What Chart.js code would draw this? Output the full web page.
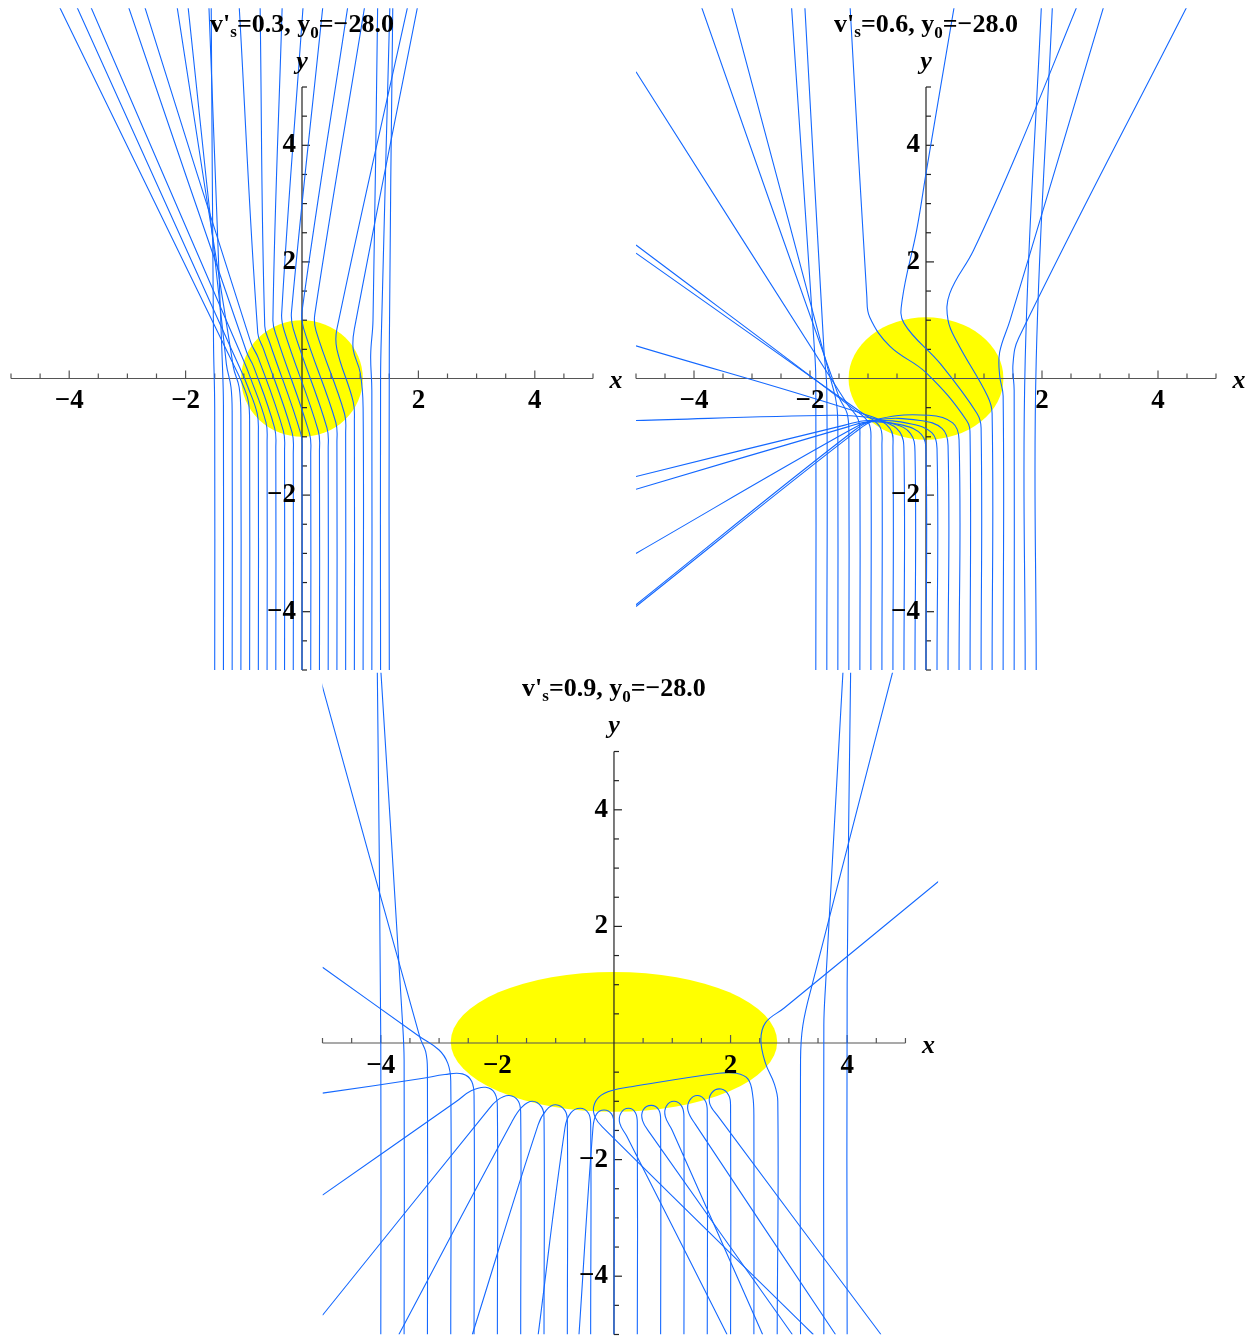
<!DOCTYPE html>
<html><head><meta charset="utf-8">
<script src="https://cdn.jsdelivr.net/npm/chart.js@4.4.1/dist/chart.umd.min.js"></script>
<style>
html,body{margin:0;padding:0;background:#fff;}
#wrap{position:relative;width:1257px;height:1338px;overflow:hidden;background:#fff;}
canvas{position:absolute;left:0;top:0;}
</style></head><body>
<div id="wrap">
<canvas id="cA" width="1257" height="1338"></canvas>
<canvas id="cB" width="1257" height="1338"></canvas>
<canvas id="cC" width="1257" height="1338"></canvas>
</div>
<script>
// ---------- data ----------
const axisRange = [-5, 5];
const minorTicks = [-5,-4.5,-4,-3.5,-3,-2.5,-2,-1.5,-1,-0.5,0.5,1,1.5,2,2.5,3,3.5,4,4.5,5];
const majorTicks = [-4,-2,2,4];
const tickLabels = ['\u22124','\u22122','2','4'];

const speeds = ['0.3','0.6','0.9'];
const y0Value = '\u221228.0';

// ellipse [cx, cy, rx, ry]
const bodyA = [0, 0, 1.045, 1.0];
const bodyB = [0, 0, 1.335, 1.05];
const bodyC = [0, 0.02, 2.8, 1.2];

const raysA = [
 [[-1.5,-5],[-1.5,-0.5],[-1.52,0.6],[-1.56,6.4]],
 [[-1.35,-5],[-1.35,-0.45],[-1.37,0.3],[-1.6,6.4]],
 [[-1.2,-5],[-1.2,-0.6],[-1.22,-0.15],[-1.3,0.25],[-1.96,6.4]],
 [[-1.05,-5],[-1.05,-0.65],[-1.08,-0.15],[-1.18,0.2],[-2.15,6.4]],
 [[-0.9,-5],[-0.9,-0.8],[-0.92,-0.4],[-1.0,-0.15],[-1.1,0.08],[-4.18,6.4]],
 [[-0.75,-5],[-0.75,-0.95],[-0.77,-0.6],[-0.94,-0.12],[-1.04,0.12],[-3.88,6.4]],
 [[-0.6,-5],[-0.6,-1.1],[-0.62,-0.75],[-0.9,0.05],[-1.0,0.3],[-3.64,6.4]],
 [[-0.45,-5],[-0.45,-1.2],[-0.47,-0.85],[-0.83,0.2],[-0.95,0.45],[-2.99,6.4]],
 [[-0.3,-5],[-0.3,-1.25],[-0.32,-0.9],[-0.75,0.35],[-0.88,0.62],[-2.71,6.4]],
 [[-0.15,-5],[-0.15,-1.3],[-0.17,-0.93],[-0.66,0.5],[-0.76,0.78],[-1.08,6.4]],
 [[0,-5],[0,-1.3],[-0.02,-0.95],[-0.55,0.6],[-0.64,0.9],[-0.72,6.4]],
 [[0.15,-5],[0.15,-1.3],[0.13,-0.95],[-0.43,0.7],[-0.5,1.0],[-0.34,6.4]],
 [[0.3,-5],[0.3,-1.25],[0.28,-0.9],[-0.3,0.8],[-0.35,1.1],[0.02,6.4]],
 [[0.45,-5],[0.45,-1.2],[0.43,-0.85],[-0.15,0.85],[-0.18,1.15],[0.36,6.4]],
 [[0.6,-5],[0.6,-1.1],[0.58,-0.75],[0.03,0.85],[0.0,1.15],[0.79,6.4]],
 [[0.75,-5],[0.75,-0.95],[0.73,-0.6],[0.24,0.82],[0.22,1.1],[1.08,6.4]],
 [[0.9,-5],[0.9,-0.75],[0.88,-0.4],[0.6,0.5],[0.6,0.85],[1.82,6.4]],
 [[1.05,-5],[1.05,-0.5],[1.0,0.1],[0.88,0.5],[0.9,0.85],[1.99,6.4]],
 [[1.2,-5],[1.2,-0.2],[1.18,0.4],[1.22,1.0],[1.3,6.4]],
 [[1.35,-5],[1.35,0],[1.37,1.0],[1.51,6.4]],
 [[1.5,-5],[1.5,0.5],[1.56,6.4]]
];

const raysB = [
 [[-1.9,-5],[-1.9,0],[-1.93,0.6],[-2.32,6.4]],
 [[-1.71,-5],[-1.71,-0.2],[-1.76,0.5],[-2.09,6.4]],
 [[-1.52,-5],[-1.52,-0.9],[-1.54,-0.45],[-1.62,-0.1],[-3.36,6.4]],
 [[-1.33,-5],[-1.33,-1.0],[-1.36,-0.6],[-1.5,-0.32],[-3.88,6.4]],
 [[-1.14,-5],[-1.14,-1.05],[-1.17,-0.7],[-1.35,-0.45],[-5,5.26]],
 [[-0.95,-5],[-0.95,-1.1],[-0.99,-0.76],[-1.25,-0.52],[-5,2.29]],
 [[-0.76,-5],[-0.76,-1.15],[-0.8,-0.82],[-1.12,-0.58],[-5,2.15]],
 [[-0.57,-5],[-0.57,-1.2],[-0.62,-0.86],[-0.98,-0.64],[-5,0.56]],
 [[-0.38,-5],[-0.38,-1.25],[-0.45,-0.92],[-0.72,-0.74],[-1.05,-0.66],[-1.6,-0.63],[-5,-0.72]],
 [[-0.19,-5],[-0.19,-1.25],[-0.27,-0.94],[-0.55,-0.78],[-1.0,-0.72],[-1.4,-0.8],[-5,-1.68]],
 [[0,-5],[0,-1.25],[-0.08,-0.96],[-0.4,-0.8],[-0.95,-0.74],[-1.35,-0.83],[-5,-1.9]],
 [[0.19,-5],[0.19,-1.2],[0.1,-0.93],[-0.25,-0.78],[-0.9,-0.73],[-1.3,-0.88],[-5,-3.0]],
 [[0.38,-5],[0.38,-1.15],[0.28,-0.86],[-0.1,-0.72],[-0.85,-0.71],[-1.25,-0.9],[-5,-3.88]],
 [[0.57,-5],[0.57,-1.05],[0.46,-0.76],[0.05,-0.63],[-0.8,-0.69],[-1.22,-0.92],[-5,-3.91]],
 [[0.76,-5],[0.76,-1.0],[0.7,-0.72],[0.0,0.1],[-0.62,0.55],[-0.97,1.05],[-1.02,1.4],[-1.31,6.4]],
 [[0.95,-5],[0.95,-0.85],[0.88,-0.6],[0.25,0.25],[-0.38,0.95],[-0.41,1.35],[-0.16,2.55],[0.01,3.58],[0.49,6.4]],
 [[1.14,-5],[1.14,-0.6],[1.06,-0.3],[0.55,0.6],[0.38,1.0],[0.41,1.46],[0.82,2.2],[1.59,3.92],[2.61,6.4]],
 [[1.33,-5],[1.33,-0.3],[1.27,0.05],[1.27,0.45],[1.45,1.0],[3.07,6.4]],
 [[1.52,-5],[1.52,-0.2],[1.5,0.25],[1.6,0.7],[4.51,6.4]],
 [[1.71,-5],[1.71,0.3],[1.99,6.4]],
 [[1.9,-5],[1.9,0.3],[2.18,6.4]]
];

const raysC = [
 [[-4,-5],[-4,0],[-4.06,6.4]],
 [[-3.6,-5],[-3.6,-0.3],[-3.63,0.4],[-4.0,6.4]],
 [[-3.2,-5],[-3.2,-0.45],[-3.23,-0.15],[-3.33,0.1],[-5.08,6.4]],
 [[-2.8,-5],[-2.8,-0.65],[-2.85,-0.35],[-3.0,-0.12],[-3.35,0.12],[-5,1.3]],
 [[-2.4,-5],[-2.4,-0.95],[-2.44,-0.66],[-2.6,-0.53],[-2.9,-0.54],[-3.3,-0.61],[-5,-0.86]],
 [[-2,-5],[-2,-1.15],[-2.04,-0.87],[-2.2,-0.76],[-2.45,-0.82],[-2.7,-1.0],[-5,-2.61]],
 [[-1.6,-5],[-1.6,-1.25],[-1.64,-1.0],[-1.8,-0.9],[-2.0,-0.98],[-2.2,-1.2],[-5,-4.67]],
 [[-1.2,-5],[-1.2,-1.3],[-1.24,-1.1],[-1.4,-1.0],[-1.58,-1.1],[-1.75,-1.35],[-3.69,-5]],
 [[-0.8,-5],[-0.8,-1.35],[-0.84,-1.16],[-1.0,-1.06],[-1.16,-1.15],[-1.3,-1.4],[-2.43,-5]],
 [[-0.4,-5],[-0.4,-1.38],[-0.44,-1.2],[-0.58,-1.12],[-0.74,-1.2],[-0.84,-1.45],[-1.3,-5]],
 [[0,-5],[0,-1.4],[-0.04,-1.22],[-0.17,-1.15],[-0.3,-1.22],[-0.36,-1.45],[-0.6,-5]],
 [[0.4,-5],[0.4,-1.4],[0.37,-1.2],[0.25,-1.12],[0.12,-1.2],[0.1,-1.38],[0.22,-1.6],[1.94,-5]],
 [[0.8,-5],[0.8,-1.35],[0.77,-1.15],[0.64,-1.07],[0.5,-1.15],[0.49,-1.33],[0.62,-1.55],[3.06,-5]],
 [[1.2,-5],[1.2,-1.3],[1.17,-1.1],[1.04,-1.0],[0.9,-1.08],[0.88,-1.26],[1.0,-1.5],[2.55,-5]],
 [[1.6,-5],[1.6,-1.2],[1.57,-1.0],[1.44,-0.9],[1.3,-0.98],[1.27,-1.16],[1.4,-1.4],[3.8,-5]],
 [[2,-5],[2,-1.1],[1.97,-0.9],[1.84,-0.79],[1.68,-0.85],[1.64,-1.03],[1.78,-1.25],[4.58,-5]],
 [[2.4,-5],[2.4,-1.3],[2.38,-0.9],[2.3,-0.62],[2.1,-0.52],[1.8,-0.52],[0.3,-0.75],[-0.02,-0.81],[-0.25,-0.92],[-0.35,-1.1],[-0.32,-1.28],[-0.2,-1.44],[3.42,-5]],
 [[2.8,-5],[2.81,-1.0],[2.75,-0.7],[2.6,-0.35],[2.52,0.05],[2.6,0.35],[2.92,0.6],[5.6,2.8]],
 [[3.2,-5],[3.2,-0.3],[3.24,0.3],[3.4,1.0],[4.79,6.4]],
 [[3.6,-5],[3.6,0.3],[3.63,1.0],[3.93,6.4]],
 [[4,-5],[4,1],[4.06,6.4]]
];

// ---------- rendering ----------
const RAY_COLOR = '#1468ff';
const FONT = '"Liberation Serif","Times New Roman",serif';

function drawTitle(ctx, cx, base, speed){
  const segs = [
    {t:'v', s:26, dy:0},
    {t:"'", s:26, dy:0},
    {t:'s', s:17, dy:5},
    {t:'='+speed+', y', s:26, dy:0},
    {t:'0', s:17, dy:6},
    {t:'='+y0Value, s:26, dy:0}
  ];
  let w = 0;
  segs.forEach(g=>{ctx.font='bold '+g.s+'px '+FONT; g.w=ctx.measureText(g.t).width; w+=g.w;});
  let x = cx - w/2;
  ctx.fillStyle='#000'; ctx.textAlign='left'; ctx.textBaseline='alphabetic';
  segs.forEach(g=>{ctx.font='bold '+g.s+'px '+FONT; ctx.fillText(g.t, x, base+g.dy); x+=g.w;});
}

function makePlugin(p){
  return {
    id:'deco'+p.key,
    beforeDatasetsDraw(chart){
      const ctx=chart.ctx, xs=chart.scales.x, ys=chart.scales.y;
      ctx.save();
      const b=p.body;
      const cx=xs.getPixelForValue(b[0]), cy=ys.getPixelForValue(b[1]);
      const rx=xs.getPixelForValue(b[0]+b[2])-cx, ry=cy-ys.getPixelForValue(b[1]+b[3]);
      ctx.fillStyle='#ffff00';
      ctx.beginPath(); ctx.ellipse(cx,cy,rx,ry,0,0,Math.PI*2); ctx.fill();
      const X0=xs.getPixelForValue(0), Y0=ys.getPixelForValue(0);
      ctx.strokeStyle='#555'; ctx.lineWidth=1.2;
      ctx.beginPath();
      ctx.moveTo(xs.getPixelForValue(axisRange[0]),Y0); ctx.lineTo(xs.getPixelForValue(axisRange[1]),Y0);
      ctx.stroke();
      minorTicks.forEach(v=>{
        const len = majorTicks.includes(v)?8:5;
        const px=xs.getPixelForValue(v);
        ctx.beginPath(); ctx.moveTo(px,Y0); ctx.lineTo(px,Y0-len); ctx.stroke();
      });
      ctx.strokeStyle='#222';
      ctx.beginPath();
      ctx.moveTo(X0,ys.getPixelForValue(axisRange[0])); ctx.lineTo(X0,ys.getPixelForValue(axisRange[1]));
      ctx.stroke();
      minorTicks.forEach(v=>{
        const len = majorTicks.includes(v)?8:5;
        const py=ys.getPixelForValue(v);
        ctx.beginPath(); ctx.moveTo(X0,py); ctx.lineTo(X0+len,py); ctx.stroke();
      });
      ctx.restore();
    },
    afterDatasetsDraw(chart){
      const ctx=chart.ctx, xs=chart.scales.x, ys=chart.scales.y;
      const X0=xs.getPixelForValue(0), Y0=ys.getPixelForValue(0);
      ctx.save();
      ctx.fillStyle='#000';
      ctx.font='bold 27px '+FONT;
      ctx.textBaseline='middle';
      majorTicks.forEach((v,i)=>{
        ctx.textAlign='center';
        ctx.fillText(tickLabels[i], xs.getPixelForValue(v), Y0+23);
        ctx.textAlign='right';
        ctx.fillText(tickLabels[i], X0-6, ys.getPixelForValue(v));
      });
      ctx.font='italic bold 26px '+FONT;
      ctx.textAlign='center';
      ctx.fillText('x', xs.getPixelForValue(axisRange[1])+23, Y0+3);
      ctx.fillText('y', X0, ys.getPixelForValue(axisRange[1])-25);
      drawTitle(ctx, X0, p.titleBase, p.speed);
      ctx.restore();
    }
  };
}

function buildChart(p){
  const datasets = p.rays.map(r=>({
    data: r.map(q=>({x:q[0], y:q[1]})),
    showLine:true, borderColor:RAY_COLOR, borderWidth:1.1,
    pointRadius:0, pointHoverRadius:0, tension:0.4, fill:false
  }));
  return new Chart(document.getElementById(p.canvas), {
    type:'scatter',
    data:{datasets},
    options:{
      responsive:false, animation:false, devicePixelRatio:1, events:[],
      layout:{padding:p.pad},
      plugins:{legend:{display:false}, tooltip:{enabled:false}, title:{display:false}},
      scales:{
        x:{type:'linear', min:p.xr[0], max:p.xr[1], display:false},
        y:{type:'linear', min:p.yr[0], max:p.yr[1], display:false}
      }
    },
    plugins:[makePlugin(p)]
  });
}

buildChart({key:'A', canvas:'cA', rays:raysA, body:bodyA, speed:speeds[0], titleBase:32,
  xr:[-5,5], yr:[-5,6.35], pad:{left:11, right:664, top:8.3, bottom:668}});
buildChart({key:'B', canvas:'cB', rays:raysB, body:bodyB, speed:speeds[1], titleBase:32,
  xr:[-5,5], yr:[-5,6.35], pad:{left:636, right:41, top:8.3, bottom:668}});
buildChart({key:'C', canvas:'cC', rays:raysC, body:bodyC, speed:speeds[2], titleBase:696,
  xr:[-5,5.56], yr:[-5,6.35], pad:{left:322.5, right:318.9, top:672.8, bottom:3.5}});
</script></body></html>
